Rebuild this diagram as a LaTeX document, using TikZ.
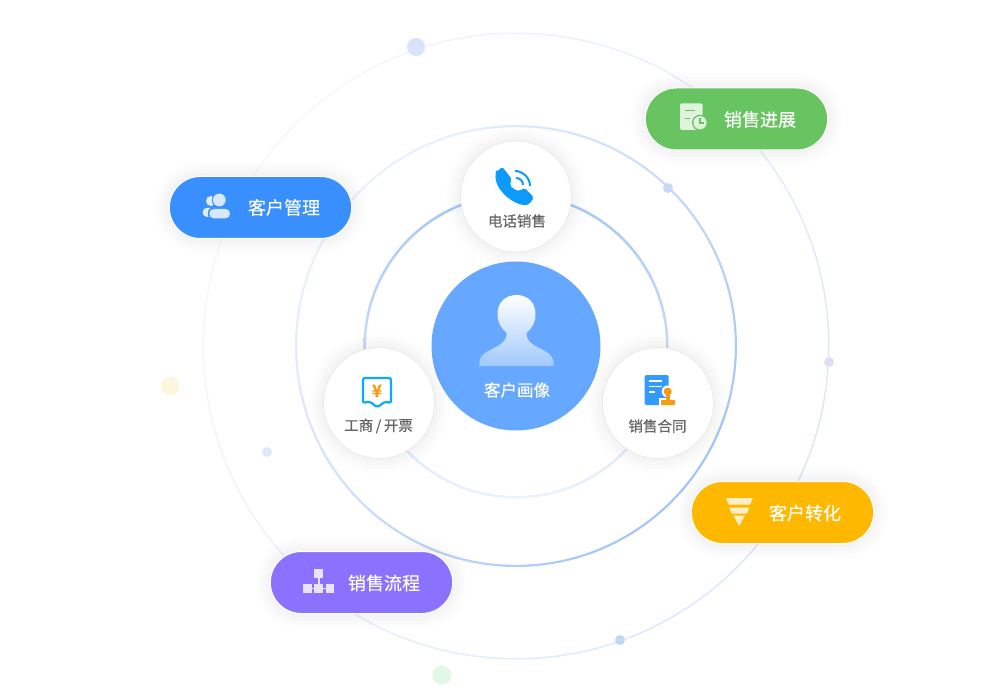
\documentclass[tikz,border=0pt]{standalone}
\usepackage{fontspec}
\setmainfont{Noto Sans CJK SC}
\newfontfamily\semifont[FakeBold=0.25]{Noto Sans CJK SC}
\newfontfamily\heavyfont[FakeBold=0.6]{Noto Sans CJK SC}
\usetikzlibrary{positioning, shapes.misc}

\definecolor{ringstrong}{HTML}{A6C6F6}
\definecolor{ringfaint}{HTML}{EBF2FC}
\definecolor{outerstrong}{HTML}{DCE7FA}
\definecolor{outerfaint}{HTML}{F3F7FD}
\definecolor{coreblue}{HTML}{66A7FF}
\definecolor{pillblue}{HTML}{3A8FFE}
\definecolor{pillgreen}{HTML}{68C361}
\definecolor{pillyellow}{HTML}{FFB800}
\definecolor{pillpurple}{HTML}{8A72FF}
\definecolor{iconblue}{HTML}{0D9BFB}
\definecolor{iconorange}{HTML}{F89A14}
\definecolor{edgegray}{HTML}{E2E2E2}
\definecolor{textgray}{HTML}{666666}
\definecolor{dotblue}{HTML}{D6E3FA}
\definecolor{dotmid}{HTML}{C6DAF8}
\definecolor{dotviolet}{HTML}{DFE0F8}
\definecolor{dotsky}{HTML}{C0D8F8}
\definecolor{dotgreen}{HTML}{E2F8E6}
\definecolor{dotpale}{HTML}{DDE9FA}
\definecolor{dotsand}{HTML}{FDF6DE}

\begin{document}
\begin{tikzpicture}[
    x=1pt, y=-1pt,
    glow/.style={
        preaction={draw=black, opacity=.008, line width=30pt},
        preaction={draw=black, opacity=.010, line width=22pt},
        preaction={draw=black, opacity=.010, line width=14pt},
        preaction={draw=black, opacity=.012, line width=7pt}
    },
    pill/.style={rounded rectangle, draw=white, line width=1pt, minimum width=189pt, minimum height=62pt, glow},
    stop/.style={circle, draw=edgegray, line width=.5pt, fill=white, minimum size=111pt, glow},
    pilltext/.style={text=white, font=\fontsize{18pt}{20pt}\semifont, inner sep=0pt},
    stoptext/.style={text=textgray, font=\fontsize{14.5pt}{17pt}\heavyfont, inner sep=0pt},
    dot/.style={circle, minimum size=#1, inner sep=0pt}
]
    \useasboundingbox (0,0) rectangle (1000,692);
    \coordinate (mid) at (516,346);

    \shade[even odd rule, top color=outerfaint, bottom color=outerstrong, shading angle=60] (mid) circle (313.5pt) (mid) circle (312pt);
    \shade[even odd rule, top color=ringfaint, bottom color=ringstrong, shading angle=50] (mid) circle (221pt) (mid) circle (218.8pt);
    \shade[even odd rule, top color=ringstrong, bottom color=ringfaint] (mid) circle (152.5pt) (mid) circle (150pt);

    \node[dot=18pt, fill=dotblue] (dota) at (416,47) {};
    \node[dot=10pt, fill=dotmid] (dotb) at (668,188) {};
    \node[dot=10pt, fill=dotviolet] (dotc) at (829,362) {};
    \node[dot=10pt, fill=dotsky] (dotd) at (620,640) {};
    \node[dot=19pt, fill=dotgreen] (dote) at (442,675) {};
    \node[dot=10pt, fill=dotpale] (dotf) at (267,452) {};
    \node[dot=19pt, fill=dotsand] (dotg) at (170,386) {};

    \node[circle, fill=coreblue, minimum size=169pt] (core) at (mid) {};
    \shade[top color=white, bottom color=coreblue!62!white] (479.5,366) .. controls (478.5,358) and (482,354) .. (490,350) .. controls (498,346) and (507,342) .. (506.7,333) .. controls (500,327) and (497.5,322) .. (497.5,314) .. controls (497.5,302) and (506,295) .. (516.7,295) .. controls (527,295) and (535.5,302) .. (535.5,314) .. controls (535.5,322) and (533,327) .. (526.5,333) .. controls (526,342) and (535,346) .. (543,350) .. controls (551,354) and (554.5,358) .. (553.5,366) -- cycle;
    \node[text=white, font=\fontsize{16.5pt}{19pt}\semifont, inner sep=0pt] (coretext) at (517,390) {客户画像};

    \node[stop] (phone) at (516,196.5) {};
    \node[stop] (invoice) at (379,403) {};
    \node[stop] (contract) at (658,403) {};
    \node[stoptext] (phonetext) at (517,221) {电话销售};
    \node[stoptext] (invoicetext) at (378.5,426) {工商\hspace{2.5pt}/\hspace{2.5pt}开票};
    \node[stoptext] (contracttext) at (657.5,426) {销售合同};

    \fill[iconblue, rounded corners=2pt] (496,172) -- (502.5,167) -- (512,179.5) -- (509.5,185) .. controls (513,188.5) and (516,190.5) .. (520,191) -- (524,187.5) -- (534,197.5) -- (529,204.5) .. controls (516,207) and (493,190) .. (496,172) -- cycle;
    \draw[iconblue, line width=2pt] (515,171) .. controls (523,171) and (530,178) .. (530,186);
    \draw[iconblue, line width=2pt] (516,178) .. controls (520,178) and (523,181) .. (523,185);

    \draw[iconblue!85!cyan, line width=2.2pt, line join=round, rounded corners=2pt] (363,378) -- (391,378) -- (391,403) -- (385,401.5) -- (377.3,407.5) -- (370,401.5) -- (363,403) -- cycle;
    \node[text=iconorange, font=\fontsize{17pt}{19pt}\selectfont\bfseries, inner sep=0pt] (yuan) at (377,391) {¥};

    \fill[pillblue!90!cyan, rounded corners=1.5pt] (644.5,375) rectangle (668.5,405);
    \fill[white] (667.7,391.5) circle (6pt);
    \fill[white] (659,398) rectangle (677,407);
    \draw[white, line width=1.3pt] (649.3,381) -- (662,381) (649.3,386.5) -- (662,386.5) (649.3,392) -- (655,392);
    \fill[iconorange] (667.7,391.5) circle (4pt);
    \fill[iconorange] (665.5,393) rectangle (670,401);
    \fill[iconorange, rounded corners=.8pt] (661,400) rectangle (675,405);

    \node[pill, fill=pillblue] (manage) at (260.5,207.5) {};
    \node[pill, fill=pillgreen] (progress) at (736.5,119) {};
    \node[pill, fill=pillyellow] (convert) at (782.5,512.5) {};
    \node[pill, fill=pillpurple] (process) at (361.5,582.5) {};
    \node[pilltext] (managetext) at (284,207.5) {客户管理};
    \node[pilltext] (progresstext) at (760,119.5) {销售进展};
    \node[pilltext] (converttext) at (805,513) {客户转化};
    \node[pilltext] (processtext) at (384,583) {销售流程};

    \fill[white!85!pillblue] (211,201) circle (5pt);
    \fill[white!85!pillblue, rounded corners=4pt] (202.7,208) rectangle (218,216.8);
    \fill[pillblue] (219.3,200) circle (7.5pt);
    \fill[pillblue, rounded corners=5pt] (207.8,207.5) rectangle (231.5,219.8);
    \fill[white!80!pillblue] (219.3,200) circle (6.4pt);
    \fill[white!80!pillblue, rounded corners=4.5pt] (209.3,209) rectangle (230,218.3);

    \fill[white!78!pillgreen, rounded corners=1.5pt] (680,103.3) rectangle (702.7,130);
    \draw[pillgreen, line width=1.4pt] (685,110.7) -- (695,110.7) (685,118.3) -- (690,118.3);
    \fill[pillgreen] (700,122.7) circle (8pt);
    \fill[white!78!pillgreen] (700,122.7) circle (6.6pt);
    \draw[pillgreen, line width=1.4pt] (700,118.5) -- (700,123) -- (704,123);

    \fill[white!78!pillyellow] (726,498) -- (752.7,498) -- (750.2,504.5) -- (728.5,504.5) -- cycle;
    \fill[white!78!pillyellow] (729.3,507.5) -- (749.3,507.5) -- (747,513.5) -- (731.5,513.5) -- cycle;
    \fill[white!78!pillyellow] (733.5,515.7) -- (744.8,515.7) -- (739.2,526) -- cycle;

    \fill[white!80!pillpurple] (314.3,569) rectangle (323.3,577.7);
    \fill[white!80!pillpurple] (303.3,584) rectangle (311.5,592.7);
    \fill[white!80!pillpurple] (314.3,584) rectangle (323.3,592.7);
    \fill[white!80!pillpurple] (326.3,584) rectangle (334.3,592.7);
    \draw[white!80!pillpurple, line width=1.4pt] (318.8,577) -- (318.8,585) (310,588.3) -- (328,588.3);
\end{tikzpicture}
\end{document}
